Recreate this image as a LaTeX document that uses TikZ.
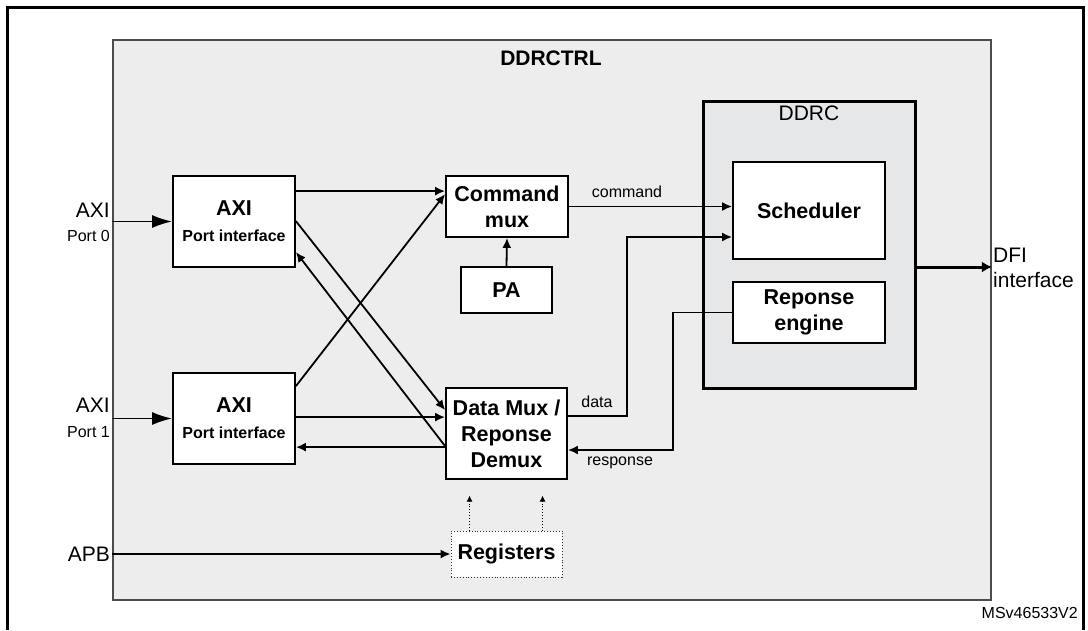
\documentclass[tikz,border=0pt]{standalone}
\usepackage{fontspec}
\setmainfont{Liberation Sans}
\usetikzlibrary{arrows.meta,calc}
\definecolor{ctrlbg}{RGB}{237,237,237}
\definecolor{ddrcbg}{RGB}{230,231,233}
\begin{document}
\begin{tikzpicture}[x=1pt,y=-1pt,
  box/.style={draw,line width=1.8pt,fill=white,inner sep=0pt,align=center,font=\fontsize{21.5}{26}\selectfont\bfseries},
  conn/.style={line width=1.8pt,-{Latex[length=10pt,width=9pt]}},
  inarrow/.style={line width=1.8pt,-{Latex[length=20pt,width=13pt]}},
  lbl/.style={inner sep=0pt,font=\fontsize{16}{19}\selectfont},
  biglbl/.style={inner sep=0pt,font=\fontsize{21}{25}\selectfont},
  dotarrow/.style={line width=0.9pt,dotted,-{Latex[length=6pt,width=6pt]}}]
\useasboundingbox (0,0) rectangle (1088,630);
\fill[white] (0,0) rectangle (1088,630);
% outer frame
\draw[line width=3pt] (7,630) -- (7,7) -- (1083,7) -- (1083,630);
% DDRCTRL
\node[draw=black!70,line width=1.8pt,fill=ctrlbg,minimum width=878pt,minimum height=560pt,inner sep=0pt] (DDRCTRL) at (552,320) {};
\node[inner sep=0pt,font=\fontsize{21}{25}\selectfont\bfseries] (title) at (551,58) {DDRCTRL};
% DDRC
\node[draw,line width=3pt,fill=ddrcbg,minimum width=212pt,minimum height=287pt,inner sep=0pt] (DDRC) at (809,244.5) {};
\node[biglbl] (ddrclbl) at (809,113) {DDRC};
\node[box,minimum width=152pt,minimum height=97pt] (Sched) at (809,210.5) {Scheduler};
\node[box,minimum width=152pt,minimum height=61pt] (Resp) at (809,312.5) {Reponse\\engine};
% blocks
\node[box,minimum width=122pt,minimum height=91pt] (AXI0) at (234,221.5) {AXI\\[0pt]{\fontsize{16}{19}\selectfont Port interface}};
\node[box,minimum width=122pt,minimum height=91pt] (AXI1) at (234,418.5) {AXI\\[0pt]{\fontsize{16}{19}\selectfont Port interface}};
\node[box,minimum width=122pt,minimum height=61pt] (Cmd) at (507,206.5) {Command\\mux};
\node[box,minimum width=91pt,minimum height=46pt] (PA) at (506.5,290) {PA};
\node[box,minimum width=121pt,minimum height=91pt] (DMux) at (506.5,433.5) {Data Mux /\\Reponse\\Demux};
\node[box,draw=black!80,line width=0.9pt,dotted,minimum width=111pt,minimum height=46pt] (Reg) at (506.5,554) {Registers};
% left labels
\node[biglbl,anchor=east] (axi0l) at (110,210) {AXI};
\node[lbl,anchor=east] (p0l) at (110,236) {Port 0};
\node[biglbl,anchor=east] (axi1l) at (110,405) {AXI};
\node[lbl,anchor=east] (p1l) at (110,432) {Port 1};
\node[biglbl,anchor=east] (apbl) at (110,554) {APB};
% inputs
\draw[inarrow] (DDRCTRL.west |- AXI0.west) -- (AXI0.west);
\draw[inarrow] (DDRCTRL.west |- AXI1.west) -- (AXI1.west);
\draw[conn] (DDRCTRL.west |- Reg.west) -- (Reg.west);
% crossing connectors
\draw[conn] ($(AXI0.north east)+(0,16)$) -- ($(Cmd.north west)+(0,16)$);
\draw[conn] ($(AXI0.north east)+(0,46)$) -- ($(DMux.north west)+(0,23)$);
\draw[conn] ($(DMux.north west)+(0,59)$) -- ($(AXI0.north east)+(0,77)$);
\draw[conn] ($(AXI1.north east)+(0,14)$) -- ($(Cmd.north west)+(0,19)$);
\draw[conn] ($(AXI1.north east)+(0,45)$) -- ($(DMux.north west)+(0,30)$);
\draw[conn] ($(DMux.north west)+(0,60)$) -- ($(AXI1.north east)+(0,75)$);
% PA
\draw[conn] (PA.north) -- (Cmd.south);
% command / data / response
\draw[conn] (Cmd.east) -- (Sched.west |- Cmd.east);
\node[lbl] (cmdl) at (627,192) {command};
\coordinate (dj) at (627,237);
\draw[conn] ($(DMux.north east)+(0,29)$) -| (dj) -- (Sched.west |- dj);
\node[lbl] (datal) at (597,402) {data};
\coordinate (rj) at (673,450);
\draw[conn] (Resp.west) -| (rj) -- (DMux.east |- rj);
\node[lbl] (respl) at (620,463) {response};
% registers dotted
\draw[dotarrow] ($(Reg.north west)+(19,0)$) -- ($(Reg.north west)+(19,-35)$);
\draw[dotarrow] ($(Reg.north west)+(92,0)$) -- ($(Reg.north west)+(92,-35)$);
% DFI
\coordinate (d1) at ($(DDRC.east)+(0,22.5)$);
\draw[line width=3pt,-{Latex[length=10pt,width=11pt]}] (d1) -- (DDRCTRL.east |- d1);
\node[biglbl,anchor=west] (dfil) at (993,255) {DFI};
\node[biglbl,anchor=west] (intl) at (993,280) {interface};
\node[lbl,anchor=east] (ms) at (1078,613) {MSv46533V2};
\end{tikzpicture}
\end{document}
